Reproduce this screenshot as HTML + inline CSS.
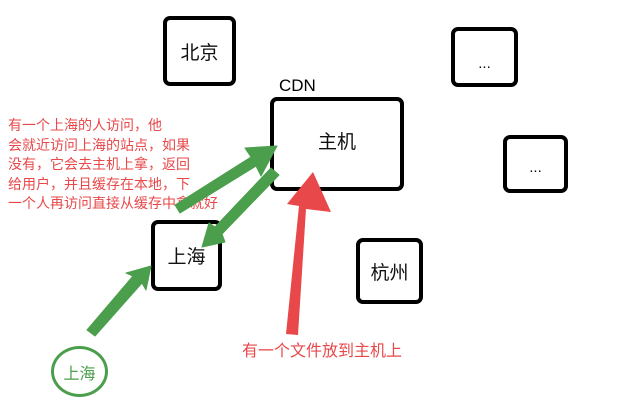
<!DOCTYPE html>
<html><head><meta charset="utf-8"><style>
body{margin:0;width:619px;height:404px;background:#fff;position:relative;overflow:hidden;font-family:"Liberation Sans","Noto Sans CJK SC",sans-serif}
.b{position:absolute;border:4px solid #000;border-radius:7px;box-sizing:border-box;display:flex;align-items:center;justify-content:center;font-size:19px;color:#111}
.t{position:absolute;color:#e8484a;font-size:14px;line-height:19.5px;left:8px;top:116px;white-space:nowrap}
</style></head><body>
<div class="b" style="left:163px;top:16px;width:73px;height:70px">北京</div>
<div class="b" style="left:451px;top:27px;width:67px;height:60px;padding-top:12px;font-size:15px">...</div>
<div class="b" style="left:503px;top:135px;width:65px;height:58px;padding-top:6px;font-size:15px">...</div>
<div class="b" style="left:270px;top:97px;width:134px;height:94px;padding-bottom:8px">主机</div>
<div style="position:absolute;left:279px;top:76px;font-size:17px;color:#000">CDN</div>
<div class="b" style="left:151px;top:220px;width:71px;height:71px">上海</div>
<div class="b" style="left:356px;top:238px;width:67px;height:66px">杭州</div>
<div class="t">有一个上海的人访问，他<br>会就近访问上海的站点，如果<br>没有，它会去主机上拿，返回<br>给用户，并且缓存在本地，下<br>一个人再访问直接从缓存中拿就好</div>
<div style="position:absolute;left:242px;top:337px;font-size:16px;color:#e8484a">有一个文件放到主机上</div>
<div style="position:absolute;left:51px;top:346px;width:57px;height:51px;border:3px solid #4a9e4c;border-radius:50%;box-sizing:border-box;display:flex;align-items:center;justify-content:center;color:#4a9e4c;font-size:16px">上海</div>
<svg width="619" height="404" style="position:absolute;left:0;top:0">
<g fill="#4a9e4c" stroke="#4a9e4c" stroke-width="1" stroke-linejoin="round">
<polygon points="175,205 180,213 256,166 261,176 277,146 245,148 251,157"/>
<polygon points="271,168 279,175 222,234 225,242 202,247 209,223 215,227"/>
<polygon points="87,330 95,336 142,283 146,290 151,266 126,273 133,276"/>
</g>
<polygon fill="#e8484a" points="286,334 298,335 306,209 331,212 313,172 287,204 299,206"/>
</svg>
</body></html>
